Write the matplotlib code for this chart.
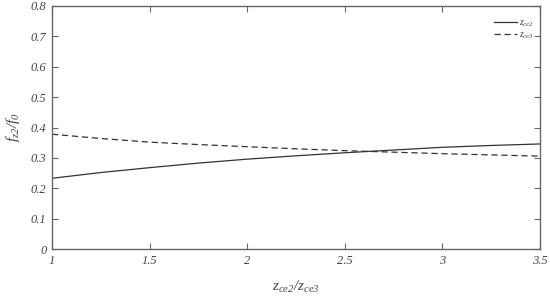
import numpy as np
import matplotlib
matplotlib.use("Agg")
import matplotlib.pyplot as plt
from matplotlib import font_manager as fm

# Find a Times-like serif font (Liberation Serif) and register it
serif_name = 'DejaVu Serif'
for path in fm.findSystemFonts():
    if 'LiberationSerif' in path.replace(' ', '') or 'Liberation Serif' in path:
        fm.fontManager.addfont(path)
        serif_name = fm.FontProperties(fname=path).get_name()

plt.rcParams['font.family'] = [serif_name, 'DejaVu Serif']
plt.rcParams['font.style'] = 'italic'
plt.rcParams['mathtext.fontset'] = 'custom'
plt.rcParams['mathtext.rm'] = serif_name + ':italic'
plt.rcParams['mathtext.it'] = serif_name + ':italic'

# Data
ratio = [1.0, 1.25, 1.5, 1.75, 2.0, 2.25, 2.5, 2.75, 3.0, 3.25, 3.5]
f_ce2 = [0.233, 0.252, 0.268, 0.283, 0.296, 0.307, 0.317, 0.326, 0.335, 0.341, 0.346]
f_ce3 = [0.378, 0.364, 0.352, 0.344, 0.337, 0.330, 0.324, 0.319, 0.314, 0.310, 0.306]

x_ticks = [1, 1.5, 2, 2.5, 3, 3.5]
x_labels = ['1', '1.5', '2', '2.5', '3', '3.5']
y_ticks = [0, 0.1, 0.2, 0.3, 0.4, 0.5, 0.6, 0.7, 0.8]
y_labels = ['0', '0.1', '0.2', '0.3', '0.4', '0.5', '0.6', '0.7', '0.8']

line_col = '#333333'
axis_col = '#666666'
text_col = '#444444'

fig = plt.figure(figsize=(5.5, 2.98), dpi=100)
ax = fig.add_axes([0.0945, 0.164, 0.887, 0.816])

ax.plot(ratio, f_ce2, color=line_col, lw=0.9, ls='-', label=r'$z_{ce2}$')
ax.plot(ratio, f_ce3, color=line_col, lw=0.9, ls=(0, (5, 3)), label=r'$z_{ce3}$')

ax.set_xlim(1, 3.5)
ax.set_ylim(0, 0.8)
ax.set_xticks(x_ticks)
ax.set_xticklabels(x_labels)
ax.set_yticks(y_ticks)
ax.set_yticklabels(y_labels)

for s in ax.spines.values():
    s.set_color(axis_col)
    s.set_linewidth(1.0)
ax.tick_params(direction='in', top=True, right=True, length=4, width=0.8,
               color=axis_col, labelcolor=text_col, labelsize=9, pad=4)

ax.set_xlabel(r'$z_{ce2}/z_{ce3}$', fontsize=11, color=text_col, labelpad=9)
ax.set_ylabel(r'$f_{z2}/f_0$', fontsize=11, color=text_col, labelpad=6)

leg = ax.legend(loc='upper right', bbox_to_anchor=(1.006, 0.985), frameon=False,
                fontsize=7, handlelength=2.4, handletextpad=0.2,
                labelspacing=0.15, borderaxespad=0.5)
for t in leg.get_texts():
    t.set_color(text_col)

fig.savefig('out.png', dpi=100)
